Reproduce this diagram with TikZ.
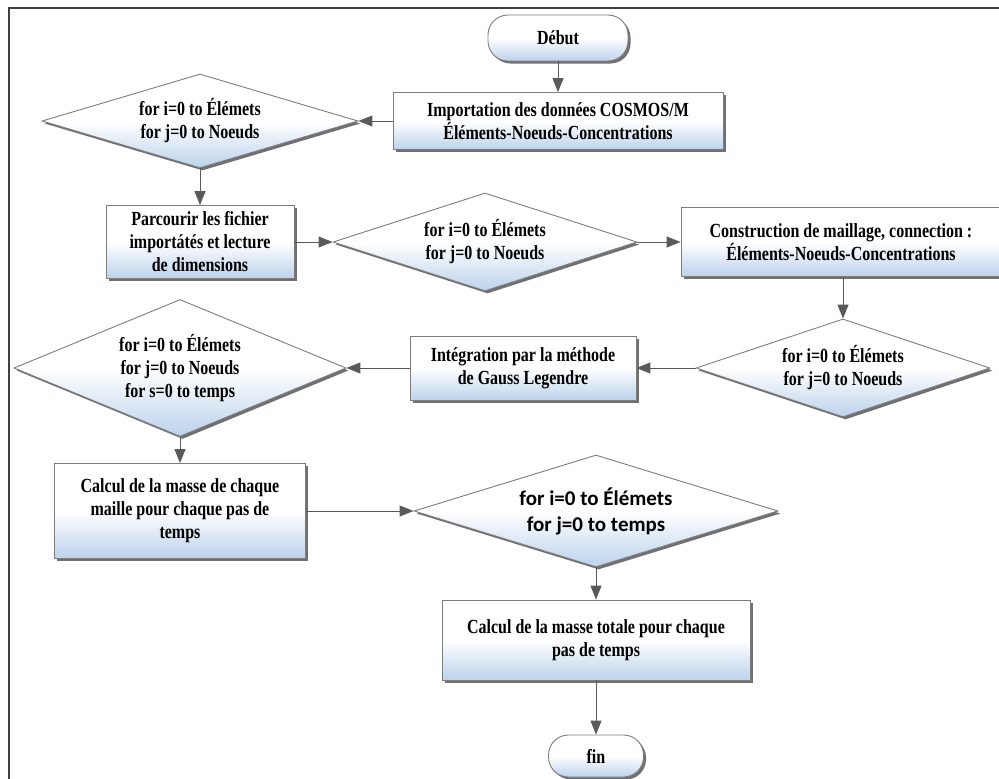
\documentclass[tikz,border=0pt]{standalone}
\usepackage{fontspec}
\setmainfont[FakeStretch=0.8]{Liberation Serif}
\newfontfamily\calfont{Carlito}
\usetikzlibrary{shapes.geometric,shadows,arrows.meta}

\definecolor{shadeblue}{RGB}{188,210,236}
\definecolor{edgegray}{RGB}{125,125,125}
\definecolor{arrowgray}{RGB}{90,90,90}

\tikzset{
  base/.style={draw=edgegray, line width=0.9pt, align=center, inner sep=0pt,
    top color=white, bottom color=shadeblue, middle color=white,
    drop shadow={shadow xshift=2.5pt, shadow yshift=-2.5pt, fill=black!70, opacity=.8},
    font=\bfseries\fontsize{20}{23}\selectfont},
  procbox/.style={base, rectangle},
  loopdia/.style={base, diamond, aspect=3},
  terminal/.style={base, rectangle, rounded corners=20pt},
  flow/.style={draw=arrowgray, line width=1pt, -{Triangle[length=14pt,width=11pt]}},
  frame/.style={draw=black!75, line width=1.5pt}
}

\begin{document}
\begin{tikzpicture}[x=1pt, y=-1pt]
  \useasboundingbox (0,0) rectangle (999,779);
  \draw[frame] (9,779) -- (9,8) -- (999,8);

  % start and reading of the data
  \node[terminal, minimum width=140pt, minimum height=46pt] (debut) at (558,38) {D\'ebut};
  \node[procbox, minimum width=330pt, minimum height=57pt] (import) at (558,121)
    {Importation des donn\'ees COSMOS/M\\\'El\'ements-Noeuds-Concentrations};
  \node[loopdia, minimum width=316pt, minimum height=94pt] (d1) at (200,121)
    {for i=0 to \'El\'emets\\for j=0 to Noeuds};
  \node[procbox, minimum width=188pt, minimum height=73pt] (b2) at (200,242)
    {Parcourir les fichier\\import\'at\'es et lecture\\de dimensions};
  \node[loopdia, minimum width=304pt, minimum height=98pt] (d2) at (485,242)
    {for i=0 to \'El\'emets\\for j=0 to Noeuds};
  \node[procbox, minimum width=320pt, minimum height=69pt] (b3) at (841,242)
    {Construction de maillage, connection :\\\'El\'ements-Noeuds-Concentrations};

  % integration
  \node[loopdia, minimum width=294pt, minimum height=98pt] (d3) at (843,368)
    {for i=0 to \'El\'emets\\for j=0 to Noeuds};
  \node[procbox, minimum width=226pt, minimum height=64pt] (b4) at (523,368)
    {Int\'egration par la m\'ethode\\de Gauss Legendre};
  \node[loopdia, aspect=2.4, minimum width=332pt, minimum height=137pt] (d4) at (180,368)
    {for i=0 to \'El\'emets\\for j=0 to Noeuds\\for s=0 to temps};

  % masses
  \node[procbox, minimum width=251pt, minimum height=95pt] (b5) at (180,511)
    {Calcul de la masse de chaque\\maille pour chaque pas de\\temps};
  \node[loopdia, aspect=3.5, minimum width=364pt, minimum height=112pt,
    font=\calfont\bfseries\fontsize{21}{26}\selectfont] (d5) at (596,511)
    {for i=0 to \'El\'emets\\for j=0 to temps};
  \node[procbox, minimum width=308pt, minimum height=80pt] (b6) at (596,640)
    {Calcul de la masse totale pour chaque\\pas de temps};
  \node[terminal, minimum width=95pt, minimum height=42pt] (fin) at (596,756) {fin};

  \draw[flow] (debut) -- (import);
  \draw[flow] (import) -- (d1);
  \draw[flow] (d1) -- (b2);
  \draw[flow] (b2) -- (d2);
  \draw[flow] (d2) -- (b3);
  \draw[flow] (b3.south -| d3.north) -- (d3.north);
  \draw[flow] (d3) -- (b4);
  \draw[flow] (b4) -- (d4);
  \draw[flow] (d4) -- (b5);
  \draw[flow] (b5) -- (d5);
  \draw[flow] (d5) -- (b6);
  \draw[flow] (b6) -- (fin);
\end{tikzpicture}
\end{document}
